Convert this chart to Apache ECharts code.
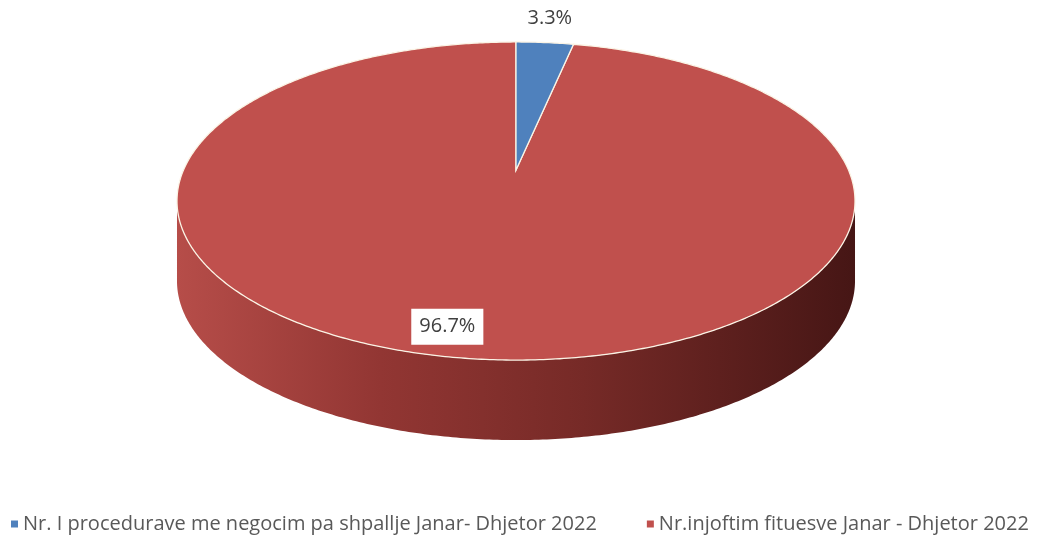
<!DOCTYPE html>
<html>
<head>
<meta charset="utf-8">
<script src="https://cdn.jsdelivr.net/npm/echarts@6/dist/echarts.min.js"></script>
<style>html,body{margin:0;padding:0;background:#fff}#c{width:1040px;height:542px}</style>
</head>
<body>
<div id="c"></div>
<script>
const categories = ['Nr. I procedurave me negocim pa shpallje Janar- Dhjetor 2022', 'Nr.injoftim fituesve Janar - Dhjetor 2022'];
const values = [3.3, 96.7];
const labelTexts = ['3.3%', '96.7%'];
const colors = ['#4F81BD', '#C0504D'];

// perspective pie geometry (style)
const CX = 516, CY = 170, A = 332.5, B = 153, K = 0.195, DEPTH = 80;
const labelOffsets = [[5, -24], [-26, -32]];
const labelInside = [false, true];

const total = values.reduce((s, v) => s + v, 0);
function proj(t, f) {
  f = f == null ? 1 : f;
  const u = f * Math.sin(t), v = f * Math.cos(t);
  const d = 1 + K * v;
  return [CX + A * u / d, CY - B * v / d];
}
function arcPts(t0, t1, dy) {
  const pts = [];
  const n = Math.max(2, Math.ceil((t1 - t0) / 0.01));
  for (let i = 0; i <= n; i++) {
    const p = proj(t0 + (t1 - t0) * i / n);
    pts.push([p[0], p[1] + (dy || 0)]);
  }
  return pts;
}
const tEdge = Math.acos(-K);

function makeRender(si) {
  return function (params, api) {
    const val = api.value(0);
    let before = 0;
    for (let i = 0; i < si; i++) before += values[i];
    const t0 = before / total * Math.PI * 2;
    const t1 = (before + val) / total * Math.PI * 2;
    const children = [];
    const sA = Math.max(t0, tEdge), sB = Math.min(t1, Math.PI * 2 - tEdge);
    if (sA < sB) {
      const top = arcPts(sA, sB, 0);
      const bot = arcPts(sA, sB, DEPTH).reverse();
      children.push({
        type: 'polygon',
        shape: { points: top.concat(bot) },
        style: {
          fill: new echarts.graphic.LinearGradient(0, 0, 1, 0, [
            { offset: 0, color: '#b64d49' },
            { offset: 0.3, color: '#923633' },
            { offset: 0.6, color: '#762a27' },
            { offset: 1, color: '#461615' }
          ]),
          stroke: null
        }
      });
    }
    const face = [[CX, CY]].concat(arcPts(t0, t1, 0));
    children.push({
      type: 'polygon',
      shape: { points: face },
      style: { fill: colors[si], stroke: '#fbf4e6', lineWidth: 1.3 }
    });
    const mid = (t0 + t1) / 2;
    const p = proj(mid);
    const off = labelOffsets[si];
    const ts = {
      text: labelTexts[si],
      x: p[0] + off[0], y: p[1] + off[1],
      align: 'center', verticalAlign: 'middle',
      fill: '#404040',
      fontSize: 20, fontFamily: 'Open Sans'
    };
    if (labelInside[si]) {
      ts.backgroundColor = '#fff';
      ts.padding = [8, 8, 8, 8];
    }
    children.push({ type: 'text', z2: 100, style: ts });
    return { type: 'group', children: children };
  };
}

const chart = echarts.init(document.getElementById('c'));
chart.setOption({
  animation: false,
  color: colors,
  legend: {
    bottom: 3, left: 6,
    icon: 'rect', itemWidth: 7, itemHeight: 7, itemGap: 50,
    textStyle: { fontSize: 20, color: '#595959', fontFamily: 'Open Sans' },
    data: categories
  },
  series: categories.map((name, i) => ({
    type: 'custom',
    name: name,
    coordinateSystem: 'none',
    renderItem: makeRender(i),
    itemStyle: { color: colors[i] },
    data: [[values[i]]],
    z: i === 1 ? 1 : 2
  }))
});
</script>
</body>
</html>
